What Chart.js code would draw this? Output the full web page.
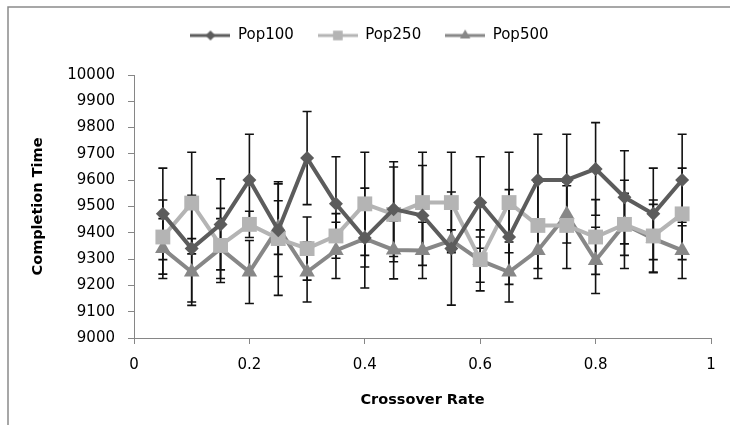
<!DOCTYPE html>
<html>
<head>
<meta charset="utf-8">
<script src="https://cdn.jsdelivr.net/npm/chart.js@4.4.0/dist/chart.umd.min.js"></script>
<style>
  html, body { margin: 0; padding: 0; background: #fff; }
  #wrap { width: 730px; height: 425px; }
</style>
</head>
<body>
<div id="wrap"><canvas id="myChart" width="730" height="425"></canvas></div>
<script>
// crossover rates on the x axis
var crossoverRates = [0.05, 0.1, 0.15, 0.2, 0.25, 0.3, 0.35, 0.4, 0.45, 0.5,
                      0.55, 0.6, 0.65, 0.7, 0.75, 0.8, 0.85, 0.9, 0.95];
var seriesNames = ["Pop100", "Pop250", "Pop500"];
// mean completion time per series
var pop100 = [9472, 9340, 9432, 9601, 9410, 9684, 9510, 9380, 9490, 9466,
              9340, 9515, 9384, 9601, 9601, 9643, 9535, 9472, 9601];
var pop250 = [9384, 9513, 9352, 9432, 9378, 9340, 9388, 9510, 9470, 9515,
              9515, 9298, 9515, 9428, 9428, 9384, 9432, 9388, 9472];
var pop500 = [9340, 9251, 9340, 9251, 9420, 9251, 9333, 9378, 9335, 9333,
              9371, 9295, 9251, 9333, 9470, 9295, 9432, 9378, 9333];
// +/- error for each point
var err100 = [174, 203, 173, 174, 176, 177, 179, 190, 180, 190,
              215, 174, 180, 174, 174, 176, 177, 174, 174];
var err250 = [141, 193, 141, 50, 216, 120, 85, 196, 180, 191,
              191, 86, 191, 164, 164, 142, 118, 137, 174];
var err500 = [114, 127, 114, 120, 102, 114, 107, 108, 110, 107,
              40, 116, 114, 107, 109, 126, 168, 130, 107];

var fontFam = "'DejaVu Sans', sans-serif";
var colors = ["#5c5c5c", "#b4b4b4", "#878787"];
var styles = ["rectRot", "rect", "triangle"];
var radii = [7, 10.5, 9];
var legendRadii = [5, 6.8, 6];

function points(vals) {
  var out = [];
  for (var i = 0; i < crossoverRates.length; i++) {
    out.push({x: crossoverRates[i], y: vals[i]});
  }
  return out;
}

// little line + marker picture for the legend
function makeIcon(i) {
  var c = document.createElement('canvas');
  c.width = 40; c.height = 16;
  var g = c.getContext('2d');
  g.strokeStyle = colors[i];
  g.lineWidth = 3;
  g.beginPath(); g.moveTo(0, 8); g.lineTo(40, 8); g.stroke();
  g.fillStyle = colors[i];
  Chart.helpers.drawPoint(g, {pointStyle: styles[i], radius: legendRadii[i], rotation: 0, borderWidth: 0}, 20, 8);
  return c;
}

var allVals = [pop100, pop250, pop500];
var allErrs = [err100, err250, err500];
var datasets = [];
for (var s = 0; s < 3; s++) {
  datasets.push({
    label: seriesNames[s],
    data: points(allVals[s]),
    errors: allErrs[s],
    borderColor: colors[s],
    backgroundColor: colors[s],
    borderWidth: 4,
    pointStyle: styles[s],
    pointRadius: radii[s],
    pointHoverRadius: radii[s],
    pointBackgroundColor: colors[s],
    pointBorderWidth: 0,
    tension: 0,
    fill: false
  });
}

// draw the outer frame (left and top edges only, rest is cut off)
var framePlugin = {
  id: 'frame',
  afterDraw: function(chart) {
    var ctx = chart.ctx;
    ctx.save();
    ctx.strokeStyle = '#8a8a8a';
    ctx.lineWidth = 1.5;
    ctx.beginPath();
    ctx.moveTo(8, 425);
    ctx.lineTo(8, 7);
    ctx.lineTo(730, 7);
    ctx.stroke();
    ctx.restore();
  }
};

// vertical error bars with caps
var errorBarPlugin = {
  id: 'errorBars',
  beforeDatasetsDraw: function(chart) {
    var ctx = chart.ctx;
    var xs = chart.scales.x, ys = chart.scales.y;
    ctx.save();
    ctx.strokeStyle = '#111';
    ctx.lineWidth = 1.6;
    chart.data.datasets.forEach(function(ds) {
      ds.data.forEach(function(p, i) {
        var e = ds.errors[i];
        var px = xs.getPixelForValue(p.x);
        var top = ys.getPixelForValue(p.y + e);
        var bot = ys.getPixelForValue(p.y - e);
        ctx.beginPath();
        ctx.moveTo(px, top); ctx.lineTo(px, bot);
        ctx.moveTo(px - 4.5, top); ctx.lineTo(px + 4.5, top);
        ctx.moveTo(px - 4.5, bot); ctx.lineTo(px + 4.5, bot);
        ctx.stroke();
      });
    });
    ctx.restore();
  }
};

// make the legend box taller so the plot starts lower
var legendGapPlugin = {
  id: 'legendGap',
  afterInit: function(chart) {
    var lg = chart.legend;
    var fit = lg.fit;
    lg.fit = function() {
      fit.call(this);
      this.height = 71;
    };
  }
};

new Chart("myChart", {
  type: "line",
  data: { datasets: datasets },
  plugins: [framePlugin, errorBarPlugin, legendGapPlugin],
  options: {
    responsive: false,
    animation: false,
    devicePixelRatio: 1,
    layout: { padding: { top: 4, left: 28, right: 19, bottom: 0 } },
    plugins: {
      tooltip: { enabled: false },
      legend: {
        display: true,
        position: 'top',
        labels: {
          usePointStyle: true,
          pointStyleWidth: 40,
          padding: 24,
          color: '#000',
          font: { family: fontFam, size: 15 },
          generateLabels: function(chart) {
            return chart.data.datasets.map(function(ds, i) {
              return {
                text: ds.label,
                pointStyle: makeIcon(i),
                fillStyle: colors[i],
                strokeStyle: colors[i],
                lineWidth: 0,
                fontColor: '#000',
                hidden: false,
                datasetIndex: i
              };
            });
          }
        }
      }
    },
    scales: {
      x: {
        type: 'linear',
        min: 0,
        max: 1,
        border: { color: '#868686', width: 1 },
        grid: { drawOnChartArea: false, drawTicks: true, tickLength: 6, color: '#868686' },
        ticks: { stepSize: 0.2, padding: 12, color: '#000', maxRotation: 0, autoSkip: false,
                 font: { family: fontFam, size: 15 },
                 callback: function(v) { return String(Math.round(v * 10) / 10); } },
        title: { display: true, text: 'Crossover Rate', color: '#000',
                 font: { family: fontFam, size: 14.5, weight: 'bold' },
                 padding: { top: 0, bottom: 16 } },
        afterFit: function(scale) { scale.height = 87; }
      },
      y: {
        min: 9000,
        max: 10000,
        border: { color: '#868686', width: 1 },
        grid: { drawOnChartArea: false, drawTicks: true, tickLength: 6, color: '#868686' },
        ticks: { stepSize: 100, padding: 13, color: '#000',
                 font: { family: fontFam, size: 15 },
                 callback: function(v) { return String(v); } },
        title: { display: true, text: 'Completion Time', color: '#000',
                 font: { family: fontFam, size: 14.5, weight: 'bold' },
                 padding: { top: 2, bottom: 0 } },
        afterFit: function(scale) { scale.width = 106; }
      }
    }
  }
});
</script>
</body>
</html>
